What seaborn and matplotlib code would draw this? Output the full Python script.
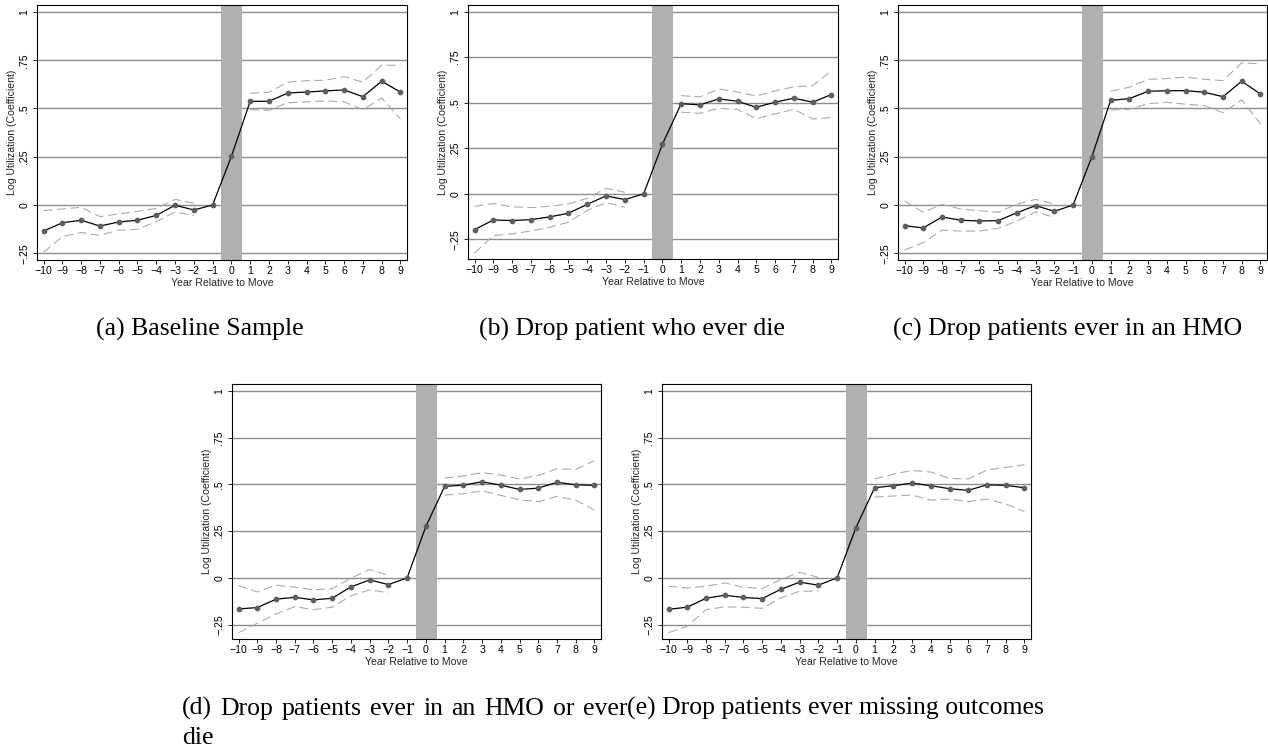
import numpy as np
import pandas as pd
import matplotlib
matplotlib.use("Agg")
import matplotlib.pyplot as plt
import seaborn as sns

# ---- data -------------------------------------------------------------
years = list(range(-10, 10))
xtick_labels = ["\u221210", "\u22129", "\u22128", "\u22127", "\u22126", "\u22125",
                "\u22124", "\u22123", "\u22122", "\u22121", "0", "1", "2", "3",
                "4", "5", "6", "7", "8", "9"]
ytick_values = [-0.25, 0, 0.25, 0.5, 0.75, 1]
ytick_labels = ["\u2212.25", "0", ".25", ".5", ".75", "1"]

nan = np.nan

# (a) Baseline sample
coef_a = [-0.135, -0.092, -0.079, -0.109, -0.088, -0.079, -0.054, -0.001, -0.026, 0.0,
          0.252, 0.537, 0.537, 0.580, 0.585, 0.591, 0.596, 0.561, 0.641, 0.585]
upper_a = [-0.029, -0.021, -0.012, -0.060, -0.047, -0.033, -0.017, 0.029, 0.009, nan,
           nan, 0.579, 0.584, 0.636, 0.644, 0.646, 0.665, 0.636, 0.724, 0.724]
lower_a = [-0.245, -0.164, -0.143, -0.157, -0.130, -0.126, -0.086, -0.036, -0.055, nan,
           nan, 0.494, 0.490, 0.530, 0.534, 0.539, 0.534, 0.494, 0.554, 0.446]

# (b) Drop patients who ever die
coef_b = [-0.196, -0.143, -0.146, -0.141, -0.126, -0.106, -0.057, -0.011, -0.031, 0.0,
          0.272, 0.495, 0.488, 0.521, 0.508, 0.475, 0.503, 0.525, 0.503, 0.545]
upper_b = [-0.068, -0.053, -0.071, -0.075, -0.068, -0.055, -0.024, 0.031, 0.009, nan,
           nan, 0.539, 0.532, 0.576, 0.558, 0.537, 0.565, 0.587, 0.594, 0.675]
lower_b = [-0.324, -0.229, -0.219, -0.203, -0.183, -0.155, -0.090, -0.048, -0.073, nan,
           nan, 0.448, 0.442, 0.470, 0.463, 0.413, 0.439, 0.464, 0.411, 0.419]

# (c) Drop patients ever in an HMO
coef_c = [-0.107, -0.119, -0.062, -0.079, -0.083, -0.081, -0.040, -0.003, -0.033, 0.0,
          0.250, 0.542, 0.551, 0.589, 0.592, 0.592, 0.584, 0.561, 0.641, 0.575]
upper_c = [0.021, -0.038, 0.003, -0.021, -0.029, -0.038, 0.005, 0.029, 0.005, nan,
           nan, 0.589, 0.610, 0.651, 0.655, 0.663, 0.651, 0.644, 0.737, 0.731]
lower_c = [-0.233, -0.195, -0.130, -0.135, -0.135, -0.121, -0.083, -0.036, -0.064, nan,
           nan, 0.492, 0.496, 0.525, 0.532, 0.522, 0.515, 0.478, 0.544, 0.420]

# (d) Drop patients ever in an HMO or ever die
coef_d = [-0.166, -0.159, -0.114, -0.104, -0.118, -0.109, -0.048, -0.011, -0.036, 0.0,
          0.275, 0.489, 0.496, 0.514, 0.496, 0.473, 0.480, 0.511, 0.498, 0.495]
upper_d = [-0.041, -0.075, -0.039, -0.050, -0.064, -0.057, -0.002, 0.045, 0.014, nan,
           nan, 0.534, 0.545, 0.563, 0.550, 0.529, 0.548, 0.584, 0.580, 0.627]
lower_d = [-0.293, -0.243, -0.193, -0.154, -0.170, -0.157, -0.096, -0.064, -0.080, nan,
           nan, 0.443, 0.450, 0.466, 0.441, 0.418, 0.407, 0.436, 0.416, 0.363]

# (e) Drop patients ever missing outcomes
coef_e = [-0.168, -0.157, -0.109, -0.093, -0.105, -0.111, -0.061, -0.023, -0.039, 0.0,
          0.268, 0.482, 0.493, 0.507, 0.493, 0.477, 0.468, 0.498, 0.495, 0.482]
upper_e = [-0.045, -0.054, -0.045, -0.027, -0.050, -0.057, -0.009, 0.030, 0.002, nan,
           nan, 0.529, 0.554, 0.575, 0.566, 0.532, 0.529, 0.577, 0.591, 0.605]
lower_e = [-0.293, -0.259, -0.170, -0.155, -0.157, -0.163, -0.107, -0.071, -0.071, nan,
           nan, 0.432, 0.438, 0.443, 0.416, 0.421, 0.409, 0.421, 0.395, 0.355]

captions = ["(a) Baseline Sample",
            "(b) Drop patient who ever die",
            "(c) Drop patients ever in an HMO",
            "(d) Drop patients ever in an HMO or ever",
            "(e) Drop patients ever missing outcomes"]
caption_wrap = "die"

xlabel = "Year Relative to Move"
ylabel = "Log Utilization (Coefficient)"

# ---- style ------------------------------------------------------------
sns.set_theme(style="white")
plt.rcParams["font.family"] = ["Liberation Sans", "DejaVu Sans"]

W, H = 1268, 750
fig = plt.figure(figsize=(W / 100, H / 100), dpi=100)
fig.patch.set_facecolor("white")


def px_axes(left, top, right, bottom):
    return fig.add_axes([left / W, 1 - bottom / H, (right - left) / W, (bottom - top) / H])


def event_panel(ax, coef, upper, lower, ylim):
    df = pd.DataFrame({"year": years, "coef": coef, "upper": upper, "lower": lower})
    df["segment"] = np.where(df["year"] < 0, "pre", "post")
    ci = df.dropna(subset=["upper", "lower"])

    ax.set_facecolor("white")
    ax.yaxis.grid(True, color="#8e8e8e", lw=1.0, zorder=0)
    ax.xaxis.grid(False)
    ax.set_axisbelow(True)
    ax.axvspan(-0.55, 0.57, color="#b0b0b0", lw=0, zorder=1)

    for col in ["upper", "lower"]:
        sns.lineplot(data=ci, x="year", y=col, units="segment", estimator=None,
                     color="#ababab", lw=0.8, linestyle=(0, (8, 4)), ax=ax, zorder=2)
    sns.lineplot(data=df, x="year", y="coef", estimator=None, color="black",
                 lw=0.9, ax=ax, zorder=3)
    sns.scatterplot(data=df, x="year", y="coef", color="#5e5e5e", s=17,
                    linewidth=0, ax=ax, zorder=4)

    ax.set_xlim(-10.35, 9.35)
    ax.set_ylim(*ylim)
    ax.set_xticks(years)
    ax.set_xticklabels(xtick_labels)
    ax.set_yticks(ytick_values)
    ax.set_yticklabels(ytick_labels, rotation=90, va="center")
    ax.tick_params(axis="both", direction="out", length=3, width=0.6,
                   labelsize=7.6, colors="black", bottom=True, left=True)
    ax.tick_params(axis="x", pad=1.5)
    ax.tick_params(axis="y", pad=2.5)
    ax.set_xlabel(xlabel, fontsize=7.6, labelpad=1.0)
    ax.set_ylabel(ylabel, fontsize=7.6, labelpad=1.5)
    for sp in ax.spines.values():
        sp.set_visible(True)
        sp.set_color("black")
        sp.set_linewidth(0.8)


panels = [
    ((37, 5, 407, 260), coef_a, upper_a, lower_a, (-0.285, 1.036)),
    ((468, 5, 838, 259), coef_b, upper_b, lower_b, (-0.357, 1.036)),
    ((898, 5, 1267, 260), coef_c, upper_c, lower_c, (-0.285, 1.036)),
    ((232, 384, 601, 639), coef_d, upper_d, lower_d, (-0.327, 1.037)),
    ((662, 384, 1031, 639), coef_e, upper_e, lower_e, (-0.327, 1.037)),
]
for box, c, u, l, yl in panels:
    event_panel(px_axes(*box), c, u, l, yl)

# ---- captions ---------------------------------------------------------
cap_kw = dict(fontsize=18.5, family=["Liberation Serif", "DejaVu Serif"],
              va="baseline", color="black")


def put(x, y, text, ha="left"):
    return fig.text(x / W, 1 - y / H, text, ha=ha, **cap_kw)


def justified_line(text, x0, x1, y):
    """Set a caption line flush on both sides by widening its word gaps."""
    renderer = fig.canvas.get_renderer()
    words = text.split(" ")
    widths = []
    for w in words:
        t = put(0, 0, w)
        widths.append(t.get_window_extent(renderer).width)
        t.remove()
    gap = ((x1 - x0) - sum(widths)) / (len(words) - 1)
    x = x0
    for w, wd in zip(words, widths):
        put(x, y, w)
        x += wd + gap


put(96, 336, captions[0])
put(479, 336, captions[1])
put(893, 336, captions[2])
justified_line(captions[3], 182, 627, 715)
put(182, 744, caption_wrap)
put(627, 715, captions[4])

fig.savefig("out.png", dpi=100, facecolor="white")
